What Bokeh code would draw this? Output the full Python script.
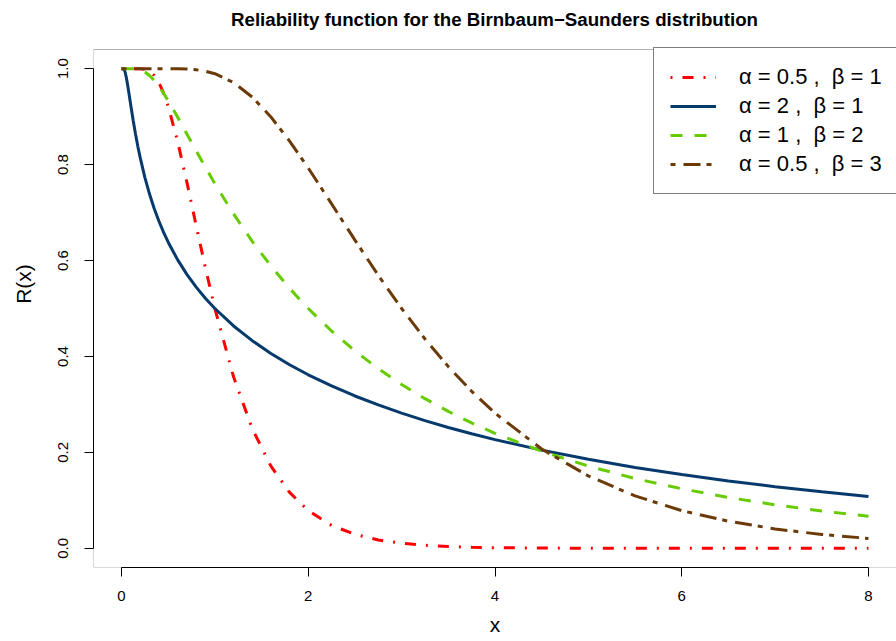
from bokeh.plotting import figure
from bokeh.models import (Range1d, FixedTicker, Legend, LegendItem,
                          PrintfTickFormatter, BoxAnnotation, Label)
from bokeh.embed import file_html
from bokeh.resources import INLINE

# ---- data ----
x = [0, 0.01, 0.02, 0.03, 0.04, 0.05, 0.06, 0.075, 0.1, 0.125, 0.15, 0.175, 0.2,
     0.25, 0.3, 0.35, 0.4, 0.45, 0.5, 0.6, 0.7, 0.8, 0.9, 1.0, 1.2, 1.4, 1.6, 1.8,
     2.0, 2.25, 2.5, 2.75, 3.0, 3.25, 3.5, 3.75, 4.0, 4.5, 5.0, 5.5, 6.0, 6.5,
     7.0, 7.5, 8.0]

r_a05_b1 = [1, 1, 1, 1, 1, 1, 1, 1, 1, 1, 1, 1.0, 0.9998,
            0.9987, 0.9947, 0.9860, 0.9711, 0.9495, 0.9214, 0.8491, 0.7634, 0.6726,
            0.5835, 0.5, 0.3575, 0.2495, 0.1714, 0.1165, 0.0786, 0.0478, 0.0289,
            0.0174, 0.0105, 0.0063, 0.0038, 0.0023, 0.0013, 0.0005, 0.0002, 0.0001,
            0, 0, 0, 0, 0]

r_a2_b1 = [1, 1.0, 0.9997, 0.9974, 0.9918, 0.9832, 0.9725, 0.9544, 0.9226, 0.8920,
           0.8638, 0.8379, 0.8145, 0.7734, 0.7386, 0.7086, 0.6824, 0.6591, 0.6382,
           0.6019, 0.5711, 0.5445, 0.5210, 0.5, 0.4636, 0.4329, 0.4063, 0.3828,
           0.3618, 0.3385, 0.3176, 0.2989, 0.2819, 0.2663, 0.2520, 0.2389, 0.2266,
           0.2047, 0.1855, 0.1687, 0.1537, 0.1404, 0.1284, 0.1177, 0.1080]

r_a1_b2 = [1, 1, 1, 1, 1, 1, 1, 1, 1.0, 0.9999, 0.9996, 0.9990, 0.9978, 0.9933,
           0.9859, 0.9757, 0.9632, 0.9489, 0.9332, 0.8994, 0.8640, 0.8287, 0.7939,
           0.7602, 0.6972, 0.6401, 0.5885, 0.5420, 0.5, 0.4531, 0.4115, 0.3746,
           0.3416, 0.3120, 0.2854, 0.2614, 0.2398, 0.2023, 0.1714, 0.1456, 0.1241,
           0.1060, 0.0907, 0.0778, 0.0668]

r_a05_b3 = [1, 1, 1, 1, 1, 1, 1, 1, 1, 1, 1, 1, 1, 1, 1, 1, 1, 1, 1.0, 0.9998,
            0.9993, 0.9977, 0.9947, 0.9895, 0.9711, 0.9408, 0.8994, 0.8491, 0.7929,
            0.7182, 0.6425, 0.5691, 0.5, 0.4364, 0.3788, 0.3274, 0.2818, 0.2071,
            0.1509, 0.1092, 0.0786, 0.0565, 0.0404, 0.0289, 0.0206]

series = [r_a05_b1, r_a2_b1, r_a1_b2, r_a05_b3]
series_labels = ["α = 0.5 ,  β = 1", "α = 2 ,  β = 1", "α = 1 ,  β = 2", "α = 0.5 ,  β = 3"]
series_colors = ["#FF0000", "#063A6C", "#66CC00", "#6B3A08"]
series_dashes = ["2 10 11 10", "solid", "12 12", "5 8 17 6"]

x_ticks = [0, 2, 4, 6, 8]
x_tick_labels = ["0", "2", "4", "6", "8"]
y_ticks = [0.0, 0.2, 0.4, 0.6, 0.8, 1.0]
y_tick_labels = ["0.0", "0.2", "0.4", "0.6", "0.8", "1.0"]

title_text = "Reliability function for the Birnbaum\u2212Saunders distribution"
FONT = "Liberation Sans"

# ---- layout ----
W, H = 896, 641
BL, BB = 93, 74            # left / bottom borders (axes live there)
BOX_TOP = 49               # pixel row of the top of R's plot box
FW, FH = W - BL, H - BB    # the frame reaches the top of the canvas
X0, X1 = -0.30, 8.30
Y0, YBOX = -0.04, 1.04
PXU_Y = (FH - BOX_TOP) / (YBOX - Y0)
Y1 = YBOX + BOX_TOP / PXU_Y

p = figure(width=W, height=H, output_backend="svg", toolbar_location=None,
           x_range=Range1d(X0, X1), y_range=Range1d(Y0, Y1),
           min_border_left=BL, min_border_right=0, min_border_top=0,
           min_border_bottom=BB)

p.background_fill_color = "white"
p.border_fill_color = "white"
p.outline_line_color = None
p.grid.grid_line_color = None

# title (screen units, measured from the frame's bottom-left corner)
p.add_layout(Label(x=494 - BL, y=FH - 19, x_units="screen", y_units="screen",
                   text=title_text, text_align="center", text_baseline="middle",
                   text_font=FONT, text_font_size="18.7px", text_font_style="bold",
                   text_color="black"))

# R's plot box; its right side lies just beyond the window, as in the reference
p.add_layout(BoxAnnotation(left=X0, right=X1 + 0.5, bottom=Y0, top=YBOX,
                           fill_alpha=0, line_color="black", line_width=1,
                           level="underlay"))

p.xaxis.ticker = FixedTicker(ticks=x_ticks)
p.yaxis.ticker = FixedTicker(ticks=y_ticks)
p.xaxis.formatter = PrintfTickFormatter(format="%d")
p.yaxis.formatter = PrintfTickFormatter(format="%.1f")
p.xaxis.major_label_overrides = dict(zip(x_ticks, x_tick_labels))
p.yaxis.major_label_overrides = dict(zip(y_ticks, y_tick_labels))
p.xaxis.bounds = (0, 8)
p.yaxis.bounds = (0, 1)
p.xaxis.axis_label = "x"
p.yaxis.axis_label = "R(x)"

for ax in [p.xaxis[0], p.yaxis[0]]:
    ax.axis_line_color = "black"
    ax.axis_line_width = 1
    ax.major_tick_line_color = "black"
    ax.major_tick_out = 9
    ax.major_tick_in = 0
    ax.minor_tick_line_color = None
    ax.major_label_text_font = FONT
    ax.major_label_text_font_size = "15px"
    ax.major_label_text_color = "black"
    ax.axis_label_text_font = FONT
    ax.axis_label_text_font_size = "21px"
    ax.axis_label_text_font_style = "normal"
    ax.axis_label_text_color = "black"

p.yaxis.major_label_orientation = "vertical"
p.yaxis.major_label_standoff = 16
p.yaxis.axis_label_standoff = 21
p.xaxis.major_label_standoff = 14
p.xaxis.axis_label_standoff = 9

items = []
for ys, lbl, col, dash in zip(series, series_labels, series_colors, series_dashes):
    r = p.line(x, ys, line_color=col, line_width=3, line_dash=dash)
    items.append(LegendItem(label=lbl, renderers=[r]))

LEG_H = 145
legend = Legend(items=items, location=(560, FH - BOX_TOP - LEG_H))
legend.margin = 0
legend.padding = 16
legend.glyph_width = 46
legend.glyph_height = 22
legend.label_height = 22
legend.spacing = 3
legend.label_standoff = 23
legend.label_text_font = FONT
legend.label_text_font_size = "22px"
legend.label_text_color = "black"
legend.border_line_color = "black"
legend.border_line_width = 1
legend.background_fill_color = "white"
legend.background_fill_alpha = 1.0
p.add_layout(legend, "center")

open("out.html", "w").write(file_html(p, INLINE))
